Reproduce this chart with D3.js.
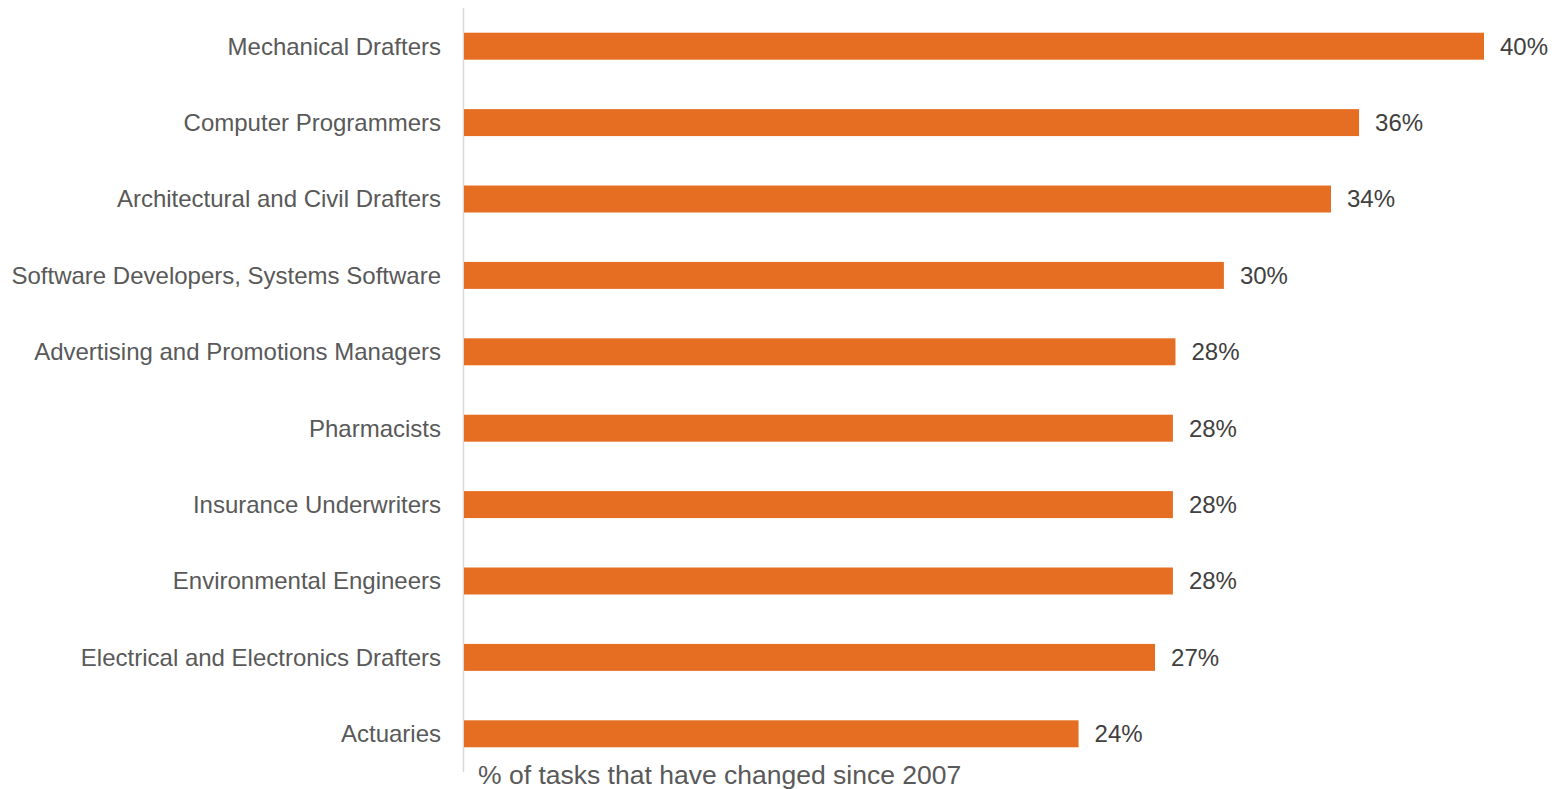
<!DOCTYPE html>
<html><head><meta charset="utf-8">
<script src="https://cdn.jsdelivr.net/npm/d3@7"></script>
<style>body{margin:0;background:#fff}svg{display:block}text{font-family:"Liberation Sans",Arial,sans-serif}</style>
</head><body><svg id="c" width="1556" height="789"></svg>
<script>
const categories = ["Mechanical Drafters","Computer Programmers","Architectural and Civil Drafters","Software Developers, Systems Software","Advertising and Promotions Managers","Pharmacists","Insurance Underwriters","Environmental Engineers","Electrical and Electronics Drafters","Actuaries"];
const values = [40.0, 35.1, 34.0, 29.8, 27.9, 27.8, 27.8, 27.8, 27.1, 24.1];
const valueLabels = ["40%","36%","34%","30%","28%","28%","28%","28%","27%","24%"];
const axisTitle = "% of tasks that have changed since 2007";

const svg = d3.select("#c");
const x = d3.scaleLinear().domain([0,40]).range([464,1484]);
const y = d3.scaleBand().domain(categories).range([8,772]).paddingInner(0.647).paddingOuter(0.3235);

svg.append("line").attr("x1",463.5).attr("x2",463.5).attr("y1",8).attr("y2",772).attr("stroke","#d9d9d9").attr("stroke-width",1.5);

svg.selectAll("rect.bar").data(categories).join("rect").attr("class","bar")
  .attr("x",x(0)).attr("y",d=>y(d)).attr("height",y.bandwidth())
  .attr("width",(d,i)=>x(values[i])-x(0)).attr("fill","#e56e22");

svg.selectAll("text.cat").data(categories).join("text").attr("class","cat")
  .attr("x",441).attr("y",d=>y(d)+y.bandwidth()/2).attr("dy","0.35em")
  .attr("text-anchor","end").attr("font-size",24).attr("fill","#595959").text(d=>d);

svg.selectAll("text.val").data(categories).join("text").attr("class","val")
  .attr("x",(d,i)=>x(values[i])+16).attr("y",d=>y(d)+y.bandwidth()/2).attr("dy","0.35em")
  .attr("font-size",24).attr("fill","#404040").text((d,i)=>valueLabels[i]);

svg.append("text").attr("x",478).attr("y",784).attr("font-size",26.5).attr("fill","#595959").text(axisTitle);
</script></body></html>
